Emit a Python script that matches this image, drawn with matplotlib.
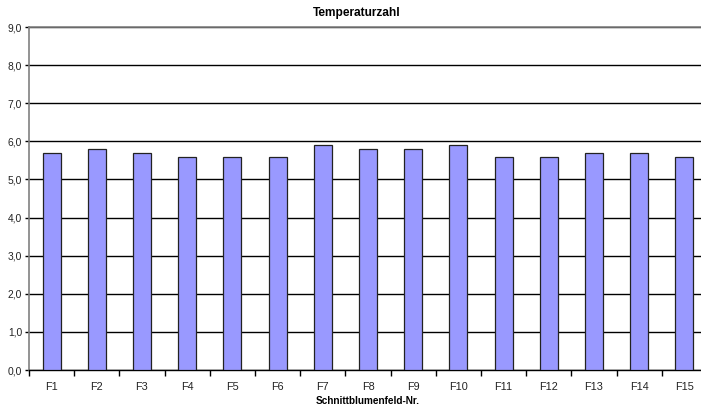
import matplotlib
matplotlib.use("Agg")
import matplotlib.pyplot as plt
from matplotlib.ticker import FuncFormatter

categories = ["F1", "F2", "F3", "F4", "F5", "F6", "F7", "F8", "F9", "F10",
              "F11", "F12", "F13", "F14", "F15"]
values = [5.7, 5.8, 5.7, 5.6, 5.6, 5.6, 5.9, 5.8, 5.8, 5.9,
          5.6, 5.6, 5.7, 5.7, 5.6]
y_ticks = [0, 1, 2, 3, 4, 5, 6, 7, 8, 9]

plt.rcParams["font.family"] = ["Liberation Sans", "DejaVu Sans"]

fig = plt.figure(figsize=(7.01, 4.05), dpi=100)
ax = fig.add_axes([29 / 701, 35 / 405, 678 / 701, 343 / 405])

x = list(range(len(categories)))
ax.bar(x, values, width=0.4, color="#9999FF", edgecolor="#222222",
       linewidth=0.9, zorder=3)

ax.set_xlim(-0.5, len(categories) - 0.5)
ax.set_ylim(0, 9)
ax.set_yticks(y_ticks)
ax.yaxis.set_major_formatter(FuncFormatter(lambda v, p: f"{v:.1f}".replace(".", ",")))
ax.grid(axis="y", color="black", linewidth=1.0, zorder=0)

ax.set_xticks(x)
ax.set_xticklabels(categories)
ax.set_xticks([i + 0.5 for i in range(-1, len(categories))], minor=True)
ax.tick_params(axis="x", which="major", length=0, pad=9, labelsize=7.8, labelcolor="#222222")
ax.tick_params(axis="x", which="minor", length=4, width=1, color="black", direction="out")
ax.tick_params(axis="y", length=3, width=1, color="black", labelsize=7.4, pad=2, labelcolor="#222222")

ax.spines["right"].set_visible(False)
ax.spines["top"].set_color("#808080")
ax.spines["top"].set_linewidth(1.2)
ax.spines["left"].set_color("#808080")
ax.spines["left"].set_linewidth(1.2)
ax.spines["bottom"].set_color("black")
ax.spines["bottom"].set_linewidth(1.0)

fig.text(357 / 701, 1 - 13 / 405, "Temperaturzahl", ha="center", va="center",
         fontsize=8.6, fontweight="bold")
fig.text(368 / 701, 1 - 401 / 405, "Schnittblumenfeld-Nr.", ha="center", va="center",
         fontsize=7.2, fontweight="bold")

fig.savefig("out.png", dpi=100, facecolor="white")
